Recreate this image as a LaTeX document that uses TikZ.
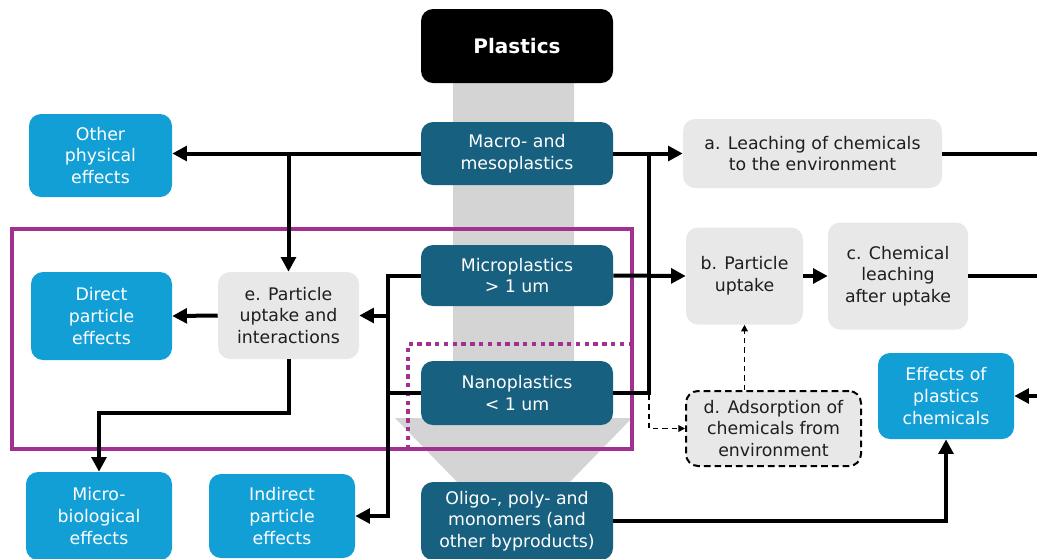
\documentclass[tikz,border=0pt]{standalone}
\usepackage{fontspec}
\setmainfont{DejaVu Sans}
\usetikzlibrary{arrows.meta}
\definecolor{dteal}{HTML}{18607F}
\definecolor{lblue}{HTML}{129FD6}
\definecolor{lgray}{HTML}{E8E8E8}
\definecolor{agray}{HTML}{D4D4D4}
\definecolor{purp}{HTML}{A2308F}
\definecolor{dtext}{HTML}{1E1E1E}
\begin{document}
\begin{tikzpicture}[x=0.75pt,y=-0.75pt,
  box/.style={rounded corners=9pt, align=center, inner sep=0pt,
    font=\fontsize{13}{16.2}\selectfont},
  dbox/.style={box, fill=dteal, text=white},
  bbox/.style={box, fill=lblue, text=white},
  gbox/.style={box, fill=lgray, text=dtext},
  ln/.style={line width=3pt},
  arr/.style={line width=3pt, -{Triangle[length=11pt,width=11pt]}},
  darr/.style={line width=1.1pt, dash pattern=on 4pt off 3pt, -{Triangle[length=5pt,width=5pt]}},
  purpline/.style={draw=purp, line width=3pt}]
\useasboundingbox (0,0) rectangle (1037,558);
\clip (0,0) rectangle (1037,558);
% big grey arrow
\fill[agray] (453,83) -- (574,83) -- (574,418) -- (632,418) -- (513.5,540) -- (395,418) -- (453,418) -- cycle;
% purple frames
\draw[purpline] (12,229) rectangle (632,449);
\draw[purpline, dash pattern=on 3.3pt off 3.3pt] (408,449) -- (408,344) -- (632,344);
% centre column
\node[box, fill=black, text=white, minimum width=144pt, minimum height=55.5pt,
  font=\fontsize{15}{18}\selectfont\bfseries] (plastics) at (517,46) {Plastics};
\node[dbox, minimum width=144pt, minimum height=47.25pt] (macro) at (517,153.5) {Macro- and\\mesoplastics};
\node[dbox, minimum width=144pt, minimum height=45.75pt] (micro) at (517,275.5) {Microplastics\\> 1 um};
\node[dbox, minimum width=144pt, minimum height=48pt] (nano) at (517,393) {Nanoplastics\\< 1 um};
\node[dbox, minimum width=144pt, minimum height=58.5pt] (oligo) at (517,521) {Oligo-, poly- and\\monomers (and\\other byproducts)};
% left
\node[bbox, minimum width=107.25pt, minimum height=62.25pt] (other) at (100.5,155.5) {Other\\physical\\effects};
\node[bbox, minimum width=105.75pt, minimum height=66pt] (direct) at (101.5,316) {Direct\\particle\\effects};
\node[gbox, minimum width=105.75pt, minimum height=65.25pt] (e) at (288.5,315.5) {e. Particle\\uptake and\\interactions};
\node[bbox, minimum width=109.5pt, minimum height=66pt] (microbio) at (99,516) {Micro-\\biological\\effects};
\node[bbox, minimum width=109.5pt, minimum height=63pt] (indirect) at (282,516) {Indirect\\particle\\effects};
% right
\node[gbox, minimum width=194.25pt, minimum height=51.75pt] (a) at (812.5,153.5) {a. Leaching of chemicals\\to the environment};
\node[gbox, minimum width=87.75pt, minimum height=72.75pt] (b) at (744.5,276) {b. Particle\\uptake};
\node[gbox, minimum width=105pt, minimum height=80.25pt] (c) at (898,276) {c. Chemical\\leaching\\after uptake};
\node[gbox, draw=black, line width=1.5pt, dash pattern=on 5pt off 3pt, minimum width=131.25pt, minimum height=56.25pt] (d) at (773.5,428.5) {d. Adsorption of\\chemicals from\\environment};
\node[bbox, minimum width=102pt, minimum height=64.5pt] (eff) at (946,396) {Effects of\\plastics\\chemicals};
% junction coordinates
\coordinate (j1) at (649,153.5);
\coordinate (j2) at (649,393);
\coordinate (j3) at (649,428.5);
\coordinate (k1) at (388,275.5);
\coordinate (k2) at (388,393);
\coordinate (k3) at (388,315.5);
\coordinate (k4) at (388,516);
\coordinate (m1) at (288.5,413);
\coordinate (m2) at (99,413);
\coordinate (ra) at (1045,153.5);
\coordinate (rc) at (1045,276);
\coordinate (re) at (1045,396);
% connectors
\draw[arr] (macro.west) -- (other.east |- macro.west);
\draw[arr] (e.north |- macro.west) -- (e.north);
\draw[arr] (macro.east) -- (a.west);
\draw[ln] (nano.east) -- (j2) -- (j1);
\draw[arr] (micro.east) -- (b.west);
\draw[arr] (b.east) -- (c.west);
\draw[ln] (a.east) -- (ra);
\draw[ln] (c.east) -- (rc);
\draw[arr] (re) -- (eff.east);
\draw[arr] (oligo.east) -- (eff.south |- oligo.east) -- (eff.south);
\draw[arr] (micro.west) -- (k1) -- (k4) -- (indirect.east);
\draw[ln] (nano.west) -- (k2);
\draw[arr] (k3) -- (e.east);
\draw[arr] (e.west) -- (direct.east);
\draw[arr] (e.south) -- (m1) -- (m2) -- (microbio.north);
\draw[darr] ([yshift=-1.5pt]j2) -- (j3) -- (d.west);
\draw[darr] (d.north -| b.south) -- (b.south);
\end{tikzpicture}
\end{document}
